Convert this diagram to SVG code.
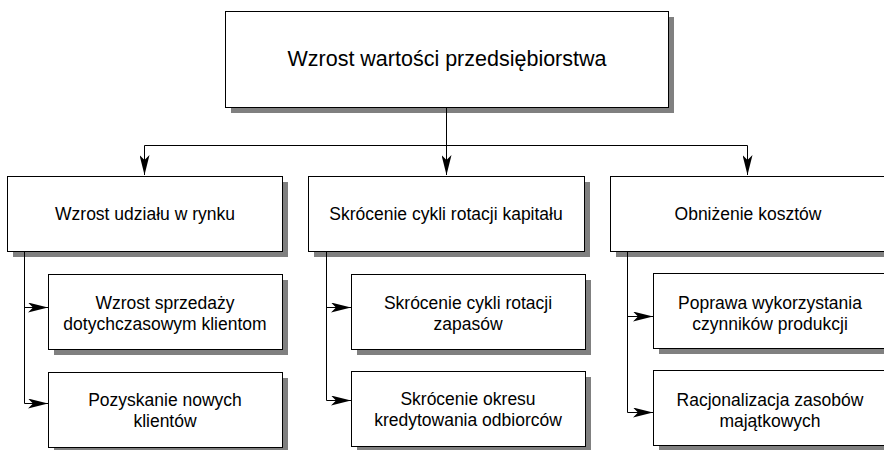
<svg xmlns="http://www.w3.org/2000/svg" width="884" height="450" viewBox="0 0 884 450">
  <defs>
    <style>
      .box { fill: #ffffff; stroke: #000000; stroke-width: 1; }
      .lbl { font-family: "Liberation Sans", Arial, sans-serif; font-size: 17.5px; fill: #000000; text-anchor: middle; }
      .title { font-size: 21.5px; }
      .wire { fill: none; stroke: #000000; stroke-width: 1; }
    </style>
    <marker id="arrow" viewBox="0 0 20 10" refX="20" refY="5" markerWidth="20" markerHeight="10" markerUnits="userSpaceOnUse" orient="auto">
      <path d="M0,0 L20,5 L0,10 L5,5 Z" fill="#000000"/>
    </marker>
  </defs>

  <rect width="884" height="450" fill="#ffffff"/>

  <!-- drop shadows, offset 6px down-right -->
  <g id="shadows" fill="#808080">
    <rect x="231" y="17" width="443" height="96"/>
    <rect x="13" y="182" width="275" height="75"/>
    <rect x="314" y="182" width="276" height="75"/>
    <rect x="616" y="182" width="290" height="75"/>
    <rect x="54" y="280" width="234" height="75"/>
    <rect x="54" y="378" width="234" height="75"/>
    <rect x="357" y="280" width="234" height="75"/>
    <rect x="357" y="377" width="234" height="75"/>
    <rect x="659" y="279" width="250" height="75"/>
    <rect x="659" y="376" width="250" height="75"/>
  </g>

  <!-- connectors -->
  <g id="connectors">
    <path class="wire" d="M446.5,107 V146 M144.5,145.5 H747.5" />
    <path class="wire" d="M144.5,145.5 V175" marker-end="url(#arrow)"/>
    <path class="wire" d="M446.5,145.5 V175" marker-end="url(#arrow)"/>
    <path class="wire" d="M747.5,145.5 V175" marker-end="url(#arrow)"/>

    <path class="wire" d="M24.5,251 V403.5 H48" marker-end="url(#arrow)"/>
    <path class="wire" d="M24.5,307.5 H48" marker-end="url(#arrow)"/>

    <path class="wire" d="M326.5,251 V400.5 H351" marker-end="url(#arrow)"/>
    <path class="wire" d="M326.5,307.5 H351" marker-end="url(#arrow)"/>

    <path class="wire" d="M627.5,251 V412.5 H653" marker-end="url(#arrow)"/>
    <path class="wire" d="M627.5,316.5 H653" marker-end="url(#arrow)"/>
  </g>

  <!-- top node -->
  <g id="node-root">
    <rect class="box" x="225.5" y="11.5" width="443" height="96"/>
    <text class="lbl title" x="447" y="66">Wzrost wartości przedsiębiorstwa</text>
  </g>

  <!-- second level -->
  <g id="node-market">
    <rect class="box" x="7.5" y="176.5" width="275" height="75"/>
    <text class="lbl" x="145" y="220">Wzrost udziału w rynku</text>
  </g>
  <g id="node-capital">
    <rect class="box" x="308.5" y="176.5" width="276" height="75"/>
    <text class="lbl" x="446" y="220">Skrócenie cykli rotacji kapitału</text>
  </g>
  <g id="node-costs">
    <rect class="box" x="610.5" y="176.5" width="290" height="75"/>
    <text class="lbl" x="748" y="220">Obniżenie kosztów</text>
  </g>

  <!-- third level: market -->
  <g id="node-sales">
    <rect class="box" x="48.5" y="274.5" width="234" height="75"/>
    <text class="lbl" x="165" y="309">Wzrost sprzedaży</text>
    <text class="lbl" x="165" y="330">dotychczasowym klientom</text>
  </g>
  <g id="node-clients">
    <rect class="box" x="48.5" y="372.5" width="234" height="75"/>
    <text class="lbl" x="165" y="406">Pozyskanie nowych</text>
    <text class="lbl" x="165" y="427">klientów</text>
  </g>

  <!-- third level: capital -->
  <g id="node-stock">
    <rect class="box" x="351.5" y="274.5" width="234" height="75"/>
    <text class="lbl" x="468" y="309">Skrócenie cykli rotacji</text>
    <text class="lbl" x="468" y="330">zapasów</text>
  </g>
  <g id="node-credit">
    <rect class="box" x="351.5" y="371.5" width="234" height="75"/>
    <text class="lbl" x="468" y="405">Skrócenie okresu</text>
    <text class="lbl" x="468" y="426">kredytowania odbiorców</text>
  </g>

  <!-- third level: costs -->
  <g id="node-factors">
    <rect class="box" x="653.5" y="273.5" width="250" height="75"/>
    <text class="lbl" x="770" y="309">Poprawa wykorzystania</text>
    <text class="lbl" x="770" y="330">czynników produkcji</text>
  </g>
  <g id="node-assets">
    <rect class="box" x="653.5" y="370.5" width="250" height="75"/>
    <text class="lbl" x="770" y="406">Racjonalizacja zasobów</text>
    <text class="lbl" x="770" y="427">majątkowych</text>
  </g>
</svg>
